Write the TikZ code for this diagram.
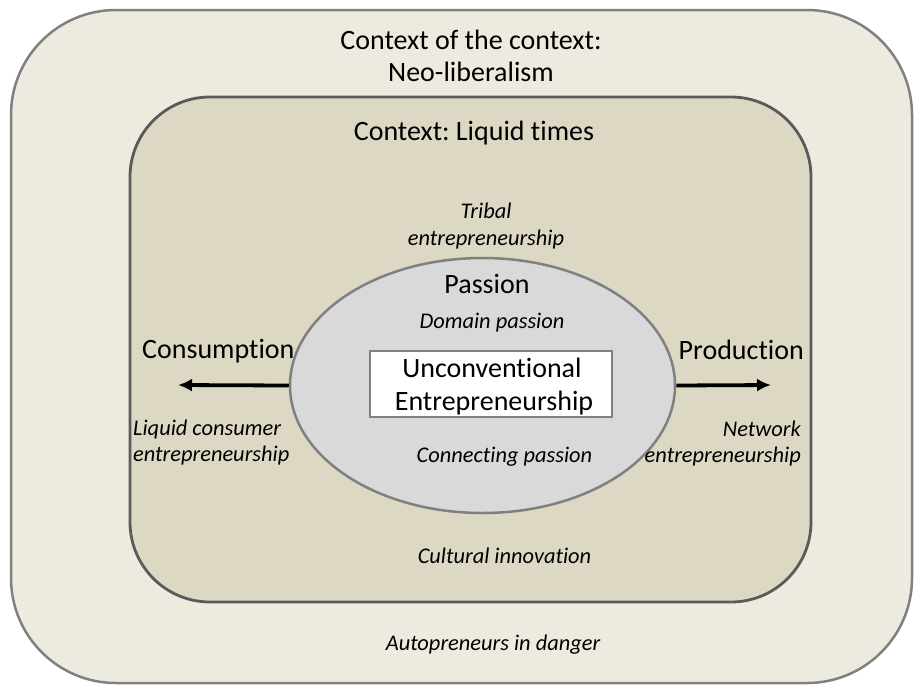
\documentclass[tikz,border=0pt]{standalone}
\usepackage{fontspec}
\setmainfont{Carlito}[Ligatures={NoCommon}]
\frenchspacing
\usetikzlibrary{arrows.meta,shapes.geometric}

\definecolor{outerfill}{HTML}{EDEBE0}
\definecolor{innerfill}{HTML}{DDD8C3}
\definecolor{ovalfill}{HTML}{D9D9D9}
\definecolor{outerline}{HTML}{808080}
\definecolor{innerline}{HTML}{5A5A5A}

\tikzset{
  big/.style={font=\fontsize{28}{33}\selectfont, inner sep=0pt, anchor=base},
  small/.style={font=\fontsize{22.4}{27}\itshape, inner sep=0pt, anchor=base},
  flow/.style={line width=3.8pt, -{Latex[length=14pt,width=13pt]}},
}

\begin{document}
\begin{tikzpicture}[x=1pt,y=-1pt]
  \useasboundingbox (0,0) rectangle (917,689);

  % nested contexts
  \draw[outerline, line width=2.5pt, fill=outerfill, rounded corners=105pt]
    (11,10) rectangle (912,683);
  \draw[innerline, line width=2.8pt, fill=innerfill, rounded corners=80pt]
    (130,97) rectangle (811,602);

  % passion oval and core box
  \node (oval) [ellipse, draw=outerline, line width=2.5pt, fill=ovalfill,
                minimum width=385pt, minimum height=255pt, inner sep=0pt]
    at (482.5,385.5) {};
  \node (core) [rectangle, draw=outerline, line width=2pt, fill=white,
                minimum width=242pt, minimum height=66pt, inner sep=0pt]
    at (491,384) {};

  % arrows towards consumption and production
  \coordinate (consEnd) at (178,385);
  \coordinate (prodEnd) at (771,385);
  \draw[flow] (oval.west) -- (consEnd);
  \draw[flow] (oval.east) -- (prodEnd);

  % labels
  \node (ctx1) [big] at (471,49) {Context of the context:};
  \node (ctx2) [big] at (471,81) {Neo-liberalism};
  \node (liquid) [big] at (474,140) {Context: Liquid times};

  \node (tribal1) [small] at (486,218) {Tribal};
  \node (tribal2) [small] at (486,245) {entrepreneurship};

  \node (passion) [big] at (487,293) {Passion};
  \node (domain) [small] at (492,328) {Domain passion};

  \node (uc1) [big] at (492,377) {Unconventional};
  \node (uc2) [big] at (494,410) {Entrepreneurship};

  \node (cons) [big, anchor=base west] at (142,358) {Consumption};
  \node (prod) [big, anchor=base east] at (804,359) {Production};

  \node (lce1) [small, anchor=base west] at (133,435) {Liquid consumer};
  \node (lce2) [small, anchor=base west] at (133,461) {entrepreneurship};
  \node (net1) [small, anchor=base east] at (801,436) {Network};
  \node (net2) [small, anchor=base east] at (801,462) {entrepreneurship};

  \node (connect) [small] at (504.5,462) {Connecting passion};
  \node (cultural) [small] at (504.5,563) {Cultural innovation};
  \node (auto) [small] at (493,650) {Autopreneurs in danger};
\end{tikzpicture}
\end{document}
